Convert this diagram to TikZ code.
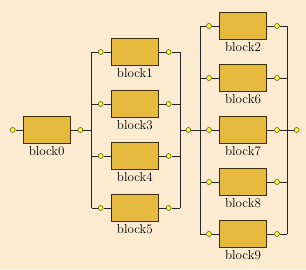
\documentclass[tikz,border=0pt]{standalone}
\usetikzlibrary{positioning}
\definecolor{bgbeige}{HTML}{FCEBD0}
\definecolor{blkfill}{HTML}{E6BA3C}
\definecolor{blkline}{HTML}{3C2E08}
\definecolor{pinfill}{HTML}{FFFF33}
\definecolor{pinline}{HTML}{5A5A1E}

\begin{document}
\begin{tikzpicture}[x=1pt, y=-1pt, font=\fontsize{13}{13}\selectfont,
    blk/.style={draw=blkline, fill=blkfill, line width=0.9pt, minimum width=47pt, minimum height=27pt, inner sep=0pt},
    pin/.style={circle, draw=pinline, fill=pinfill, line width=0.6pt, inner sep=0pt, minimum size=5pt},
    wire/.style={draw=black!85, line width=0.9pt},
    lbl/.style={inner sep=0pt}]
  \def\xAL{91.7}   % left bus of the first group
  \def\xAR{180}    % right bus of the first group
  \def\xBL{200}    % left bus of the second group
  \def\xBR{287.3}  % right bus of the second group
  \path[use as bounding box, fill=bgbeige] (0,0) rectangle (306,269);
  % series part: input, block0, output pin
  \node[pin] (pin0) at (12.7,130) {};
  \node[blk] (b0) at (46.7,130) {};
  \node[lbl, below=2.5pt of b0] (t0) {block0};
  \node[pin] (po0) at (80.3,130) {};
  \coordinate (aLm) at (\xAL,130);
  \coordinate (aRm) at (\xAR,130);
  \node[pin] (pj) at (188.3,130) {};
  \node[pin] (pout) at (296.7,130) {};
  \draw[wire] (pin0) -- (b0) -- (po0) -- (aLm);
  % first parallel group
  \foreach \n/\y in {1/52,3/104,4/156,5/208} {
    \node[blk] (b\n) at (134.8,\y) {};
    \node[lbl, below=2.5pt of b\n] (t\n) {block\n};
    \coordinate (aL\n) at (\xAL,\y);
    \coordinate (aR\n) at (\xAR,\y);
    \node[pin] (pl\n) at (100.7,\y) {};
    \node[pin] (pr\n) at (168.7,\y) {};
    \draw[wire] (aL\n) -- (pl\n) -- (b\n) -- (pr\n) -- (aR\n);
  }
  \draw[wire] (aL1) -- (aL5) (aR1) -- (aR5);
  % second parallel group
  \foreach \n/\y in {2/26,6/78,7/130,8/182,9/234} {
    \node[blk] (b\n) at (243,\y) {};
    \node[lbl, below=2.5pt of b\n] (t\n) {block\n};
    \coordinate (bL\n) at (\xBL,\y);
    \coordinate (bR\n) at (\xBR,\y);
    \node[pin] (pl\n) at (209,\y) {};
    \node[pin] (pr\n) at (277,\y) {};
    \draw[wire] (bL\n) -- (pl\n) -- (b\n) -- (pr\n) -- (bR\n);
  }
  \draw[wire] (bL2) -- (bL9) (bR2) -- (bR9);
  \draw[wire] (aRm) -- (pj) -- (bL7);
  \draw[wire] (bR7) -- (pout);
\end{tikzpicture}
\end{document}
